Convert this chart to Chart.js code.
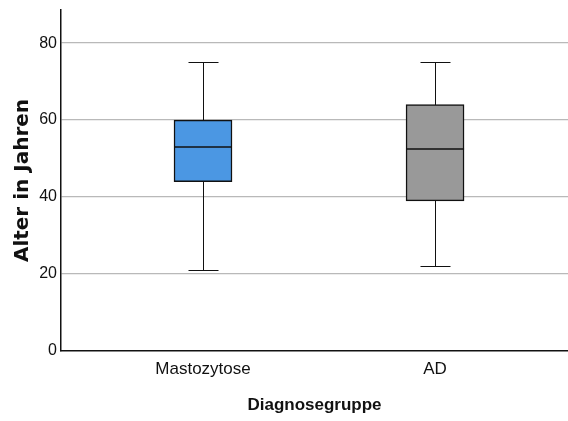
<!DOCTYPE html>
<html>
<head>
<meta charset="utf-8">
<script src="https://cdn.jsdelivr.net/npm/chart.js@4/dist/chart.umd.min.js"></script>
<style>
  body { margin: 0; background: #fff; }
  #wrap { width: 568px; height: 421px; }
</style>
</head>
<body>
<div id="wrap"><canvas id="box"></canvas></div>
<script>
// group labels and their box plot stats (Alter in Jahren)
const categories = ['Mastozytose', 'AD'];
const whiskerLow = [21, 22];
const q1 = [44, 39];
const median = [53, 52.5];
const q3 = [60, 64];
const whiskerHigh = [75, 75];
const yTicks = [0, 20, 40, 60, 80];
const boxColors = ['#4b97e3', '#999999'];

const positions = categories.map((c, i) => i + 1);

// whiskers + median, drawn from the chart's own scales
const boxPlugin = {
  id: 'boxParts',
  beforeDatasetsDraw(chart) {
    const { ctx, scales: { x, y } } = chart;
    ctx.save();
    ctx.strokeStyle = '#111';
    ctx.lineWidth = 1;
    positions.forEach((p, i) => {
      const cx = Math.round(x.getPixelForValue(p)) + 0.5;
      const half = 15;
      ctx.beginPath();
      ctx.moveTo(cx, y.getPixelForValue(whiskerLow[i]));
      ctx.lineTo(cx, y.getPixelForValue(whiskerHigh[i]));
      [whiskerLow[i], whiskerHigh[i]].forEach(v => {
        const py = Math.round(y.getPixelForValue(v)) + 0.5;
        ctx.moveTo(cx - half, py);
        ctx.lineTo(cx + half, py);
      });
      ctx.stroke();
    });
    ctx.restore();
  },
  afterDatasetsDraw(chart) {
    const { ctx, scales: { y } } = chart;
    const meta = chart.getDatasetMeta(0);
    ctx.save();
    ctx.strokeStyle = '#111';
    ctx.lineWidth = 1.5;
    meta.data.forEach((bar, i) => {
      const py = Math.round(y.getPixelForValue(median[i]));
      ctx.beginPath();
      ctx.moveTo(bar.x - bar.width / 2, py);
      ctx.lineTo(bar.x + bar.width / 2, py);
      ctx.stroke();
    });
    ctx.restore();
  }
};

new Chart(document.getElementById('box'), {
  type: 'bar',
  data: {
    datasets: [{
      data: positions.map((p, i) => ({ x: p, y: [q1[i], q3[i]] })),
      backgroundColor: boxColors,
      borderColor: '#111',
      borderWidth: 1.5,
      borderSkipped: false,
      barThickness: 58
    }]
  },
  options: {
    responsive: true,
    maintainAspectRatio: false,
    animation: false,
    layout: { padding: { top: 10, right: 0, left: 0, bottom: 0 } },
    plugins: { legend: { display: false }, tooltip: { enabled: false } },
    scales: {
      x: {
        type: 'linear',
        offset: false,
        min: 0.388,
        max: 2.573,
        afterBuildTicks: s => { s.ticks = positions.map(v => ({ value: v })); },
        afterFit: s => { s.height = 70; s.paddingLeft = 0; s.paddingRight = 0; },
        grid: { display: false, drawTicks: false, offset: false },
        border: { color: '#111', width: 1.5 },
        ticks: {
          padding: 8,
          color: '#111',
          font: { family: "'Liberation Sans', Arial, sans-serif", size: 17 },
          callback: v => categories[v - 1] || ''
        },
        title: {
          display: true,
          text: 'Diagnosegruppe',
          color: '#111',
          padding: { top: 0, bottom: 5 },
          font: { family: "'Liberation Sans', Arial, sans-serif", size: 17, weight: 'bold' }
        }
      },
      y: {
        min: 0,
        max: 88.6,
        afterBuildTicks: s => { s.ticks = yTicks.map(v => ({ value: v })); },
        afterFit: s => { s.width = 61; s.paddingTop = 0; s.paddingBottom = 0; },
        grid: {
          drawTicks: false,
          color: ctx => ctx.tick && ctx.tick.value === 0 ? 'rgba(0,0,0,0)' : '#b9b9b9',
          lineWidth: 1.2
        },
        border: { color: '#111', width: 1.5 },
        ticks: {
          padding: 4,
          color: '#111',
          font: { family: "'Liberation Sans', Arial, sans-serif", size: 16 }
        },
        title: {
          display: true,
          text: 'Alter in Jahren',
          color: '#111',
          padding: { top: 11, bottom: 0 },
          font: { family: "'DejaVu Sans', sans-serif", size: 20, weight: 'bold' }
        }
      }
    }
  },
  plugins: [boxPlugin]
});
</script>
</body>
</html>
